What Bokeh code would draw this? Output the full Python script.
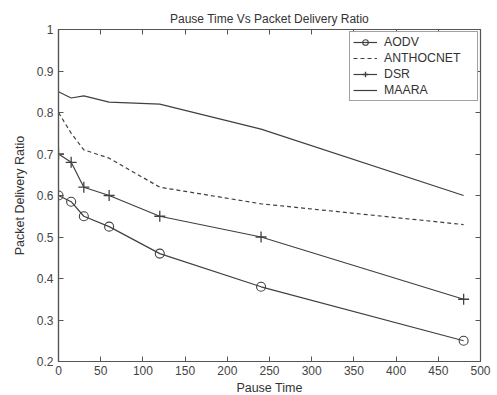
from bokeh.plotting import figure
from bokeh.models import LinearAxis, Legend, LegendItem, FixedTicker, Range1d
from bokeh.embed import file_html
from bokeh.resources import INLINE

pause_time = [0, 15, 30, 60, 120, 240, 480]
aodv = [0.60, 0.585, 0.55, 0.525, 0.46, 0.38, 0.25]
anthocnet = [0.80, 0.75, 0.71, 0.69, 0.62, 0.58, 0.53]
dsr = [0.70, 0.68, 0.62, 0.60, 0.55, 0.50, 0.35]
maara = [0.85, 0.835, 0.84, 0.825, 0.82, 0.76, 0.60]

x_ticks = [0, 50, 100, 150, 200, 250, 300, 350, 400, 450, 500]
y_ticks = [0.2, 0.3, 0.4, 0.5, 0.6, 0.7, 0.8, 0.9, 1.0]

FONT = "Liberation Sans"
LC = "#404040"
AX = "#555555"

p = figure(frame_width=422, frame_height=332, output_backend="svg", toolbar_location=None,
           x_range=Range1d(0, 500), y_range=Range1d(0.2, 1.0),
           title="Pause Time Vs Packet Delivery Ratio",
           min_border_left=58, min_border_right=17, min_border_top=29, min_border_bottom=34)
p.title.align = "center"
p.title.text_font = FONT
p.title.text_font_size = "12px"
p.title.text_font_style = "normal"
p.title.text_color = "#333333"
p.title.standoff = 8

p.grid.visible = False
p.outline_line_color = AX
p.outline_line_width = 1.2

for ax in [p.xaxis[0], p.yaxis[0]]:
    ax.major_label_text_font = FONT
    ax.major_label_text_font_size = "12px"
    ax.major_label_text_color = "#444444"
    ax.axis_label_text_font = FONT
    ax.axis_label_text_font_size = "12.5px"
    ax.axis_label_text_font_style = "normal"
    ax.axis_label_text_color = "#333333"
    ax.axis_line_color = AX
    ax.axis_line_width = 1.2
    ax.major_tick_in = 5
    ax.major_tick_out = 0
    ax.major_tick_line_color = AX
    ax.minor_tick_line_color = None

p.xaxis[0].major_label_standoff = 4
p.xaxis[0].axis_label_standoff = 3
p.yaxis[0].major_label_standoff = 5
p.yaxis[0].axis_label_standoff = 7

p.xaxis[0].ticker = FixedTicker(ticks=x_ticks)
p.yaxis[0].ticker = FixedTicker(ticks=y_ticks)
p.yaxis[0].major_label_overrides = {1.0: "1"}
p.xaxis[0].axis_label = "Pause Time"
p.yaxis[0].axis_label = "Packet Delivery Ratio"

top = LinearAxis(ticker=FixedTicker(ticks=x_ticks),
                 major_label_overrides={t: "" for t in x_ticks},
                 major_tick_in=5, major_tick_out=0, minor_tick_line_color=None,
                 axis_line_color=AX, major_tick_line_color=AX, major_label_standoff=0)
right = LinearAxis(ticker=FixedTicker(ticks=y_ticks),
                   major_label_overrides={t: "" for t in y_ticks},
                   major_tick_in=5, major_tick_out=0, minor_tick_line_color=None,
                   axis_line_color=AX, major_tick_line_color=AX, major_label_standoff=0)
p.add_layout(top, "above")
p.add_layout(right, "right")

l_aodv = p.line(pause_time, aodv, line_color=LC, line_width=1.2)
m_aodv = p.scatter(pause_time, aodv, marker="circle", size=9, fill_color=None,
                   line_color=LC, line_width=1.1)
l_ant = p.line(pause_time, anthocnet, line_color=LC, line_width=1.2, line_dash="4 3")
l_dsr = p.line(pause_time, dsr, line_color=LC, line_width=1.2)
m_dsr = p.scatter(pause_time, dsr, marker="cross", size=11, line_color=LC, line_width=1.3)
l_maara = p.line(pause_time, maara, line_color=LC, line_width=1.2)

legend = Legend(items=[
    LegendItem(label="AODV", renderers=[l_aodv, m_aodv]),
    LegendItem(label="ANTHOCNET", renderers=[l_ant]),
    LegendItem(label="DSR", renderers=[l_dsr, m_dsr]),
    LegendItem(label="MAARA", renderers=[l_maara]),
], location=(291, 260))
legend.label_text_font = FONT
legend.label_text_font_size = "12.3px"
legend.label_text_color = "#333333"
legend.label_height = 14
legend.label_width = 90
legend.glyph_height = 14
legend.glyph_width = 24
legend.spacing = 2
legend.padding = 3
legend.margin = 0
legend.border_line_color = "#444444"
legend.border_line_width = 1
legend.label_standoff = 7
p.add_layout(legend, "center")

open("out.html", "w").write(file_html(p, INLINE))
